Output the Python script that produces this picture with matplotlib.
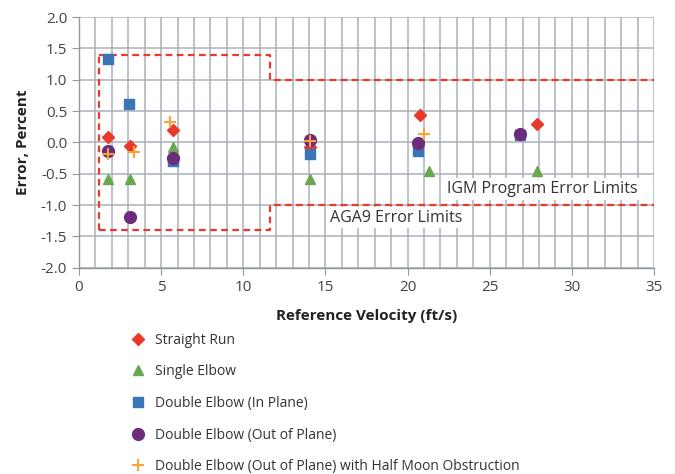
import matplotlib
matplotlib.use('Agg')
import matplotlib.pyplot as plt
from matplotlib.lines import Line2D

plt.rcParams['font.family'] = ['Open Sans', 'DejaVu Sans']

# data
straight_x = [1.78, 3.12, 5.70, 14.06, 20.75, 27.86]
straight_y = [0.08, -0.05, 0.20, -0.08, 0.43, 0.30]

single_x = [1.78, 3.12, 5.70, 14.06, 21.3, 27.86]
single_y = [-0.59, -0.59, -0.08, -0.59, -0.46, -0.46]

inplane_x = [1.78, 3.06, 5.70, 14.06, 20.65, 26.84]
inplane_y = [1.33, 0.61, -0.29, -0.19, -0.13, 0.12]

outplane_x = [1.78, 3.12, 5.70, 14.06, 20.65, 26.84]
outplane_y = [-0.14, -1.19, -0.25, 0.04, -0.01, 0.14]

halfmoon_x = [1.78, 3.35, 5.54, 14.06, 21.0]
halfmoon_y = [-0.19, -0.15, 0.33, 0.02, 0.14]

# AGA9 limits
aga_x = [1.24, 11.6, 11.6, 35]
aga_hi = [1.4, 1.4, 1.0, 1.0]
aga_lo = [-1.4, -1.4, -1.0, -1.0]

fig = plt.figure(figsize=(6.75, 4.74), dpi=100)
ax = fig.add_axes([0.117, 0.435, 0.852, 0.529])

gridc = '#a9b1b9'
ax.set_xlim(0, 35)
ax.set_ylim(-2, 2)
ax.set_xticks(range(0, 36, 5))
ax.set_xticks(range(0, 36, 1), minor=True)
ax.set_yticks([-2, -1.5, -1, -0.5, 0, 0.5, 1, 1.5, 2])
ax.set_yticklabels(['%.1f' % v for v in ax.get_yticks()])
ax.grid(True, which='both', color=gridc, linewidth=1.1)
ax.set_axisbelow(True)
for s in ['top', 'right']:
    ax.spines[s].set_visible(False)
for s in ['left', 'bottom']:
    ax.spines[s].set_color('#8f979f')
    ax.spines[s].set_linewidth(1.0)
ax.tick_params(axis='both', which='major', labelsize=11, colors='#8f979f', labelcolor='#444444', length=5)
ax.tick_params(axis='both', which='minor', length=0)

red = '#e8392a'
# dashed AGA9 box + step to the IGM limits
ax.plot([aga_x[0], aga_x[0]], [aga_lo[0], aga_hi[0]], color=red, ls='--', lw=1.6, dashes=(3, 2))
ax.plot(aga_x, aga_hi, color=red, ls='--', lw=1.6, dashes=(3, 2))
ax.plot(aga_x, aga_lo, color=red, ls='--', lw=1.6, dashes=(3, 2))

ax.plot(straight_x, straight_y, 'D', color=red, ms=6, ls='none', zorder=3)
ax.plot(single_x, single_y, '^', color='#6aa84f', ms=7, ls='none', zorder=3)
ax.plot(inplane_x, inplane_y, 's', color='#3a75b5', ms=7, ls='none', zorder=3)
ax.plot(outplane_x, outplane_y, 'o', color='#6b2d7b', ms=8.5, ls='none', zorder=4)
ax.plot(halfmoon_x, halfmoon_y, '+', color='#f7a23b', ms=9, mew=1.5, ls='none', zorder=5)

ax.text(22.4, -0.74, 'IGM Program Error Limits', fontsize=11.5, color='#333333', va='center',
        bbox=dict(facecolor='white', edgecolor='none', pad=2))
ax.text(15.3, -1.2, 'AGA9 Error Limits', fontsize=11.5, color='#333333', va='center',
        bbox=dict(facecolor='white', edgecolor='none', pad=2))

ax.set_xlabel('Reference Velocity (ft/s)', fontsize=11, fontweight='bold', color='#222222', labelpad=10)
ax.set_ylabel('Error, Percent', fontsize=11, fontweight='bold', color='#222222', labelpad=8)

handles = [
    Line2D([], [], marker='D', color=red, ls='none', ms=6),
    Line2D([], [], marker='^', color='#6aa84f', ls='none', ms=7),
    Line2D([], [], marker='s', color='#3a75b5', ls='none', ms=7),
    Line2D([], [], marker='o', color='#6b2d7b', ls='none', ms=8.5),
    Line2D([], [], marker='+', color='#f7a23b', ls='none', ms=9, mew=1.5),
]
labels = ['Straight Run', 'Single Elbow', 'Double Elbow (In Plane)',
          'Double Elbow (Out of Plane)', 'Double Elbow (Out of Plane) with Half Moon Obstruction']
leg = fig.legend(handles, labels, loc='upper left', bbox_to_anchor=(0.186, 0.31),
                 frameon=False, fontsize=10, labelspacing=1.2, handlelength=1.0,
                 handletextpad=0.75, borderaxespad=0)
for t in leg.get_texts():
    t.set_color('#333333')

fig.savefig('out.png', dpi=100)
